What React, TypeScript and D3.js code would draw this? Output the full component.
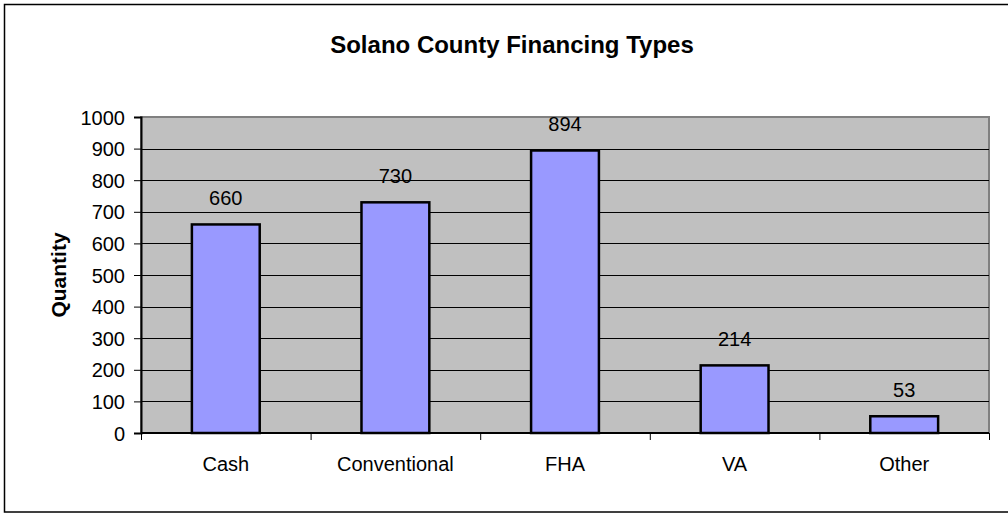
import { useEffect, useRef } from 'react'
import * as d3 from 'd3'

const categories = ['Cash', 'Conventional', 'FHA', 'VA', 'Other']
const quantities = [660, 730, 894, 214, 53]
const yTicks = [0, 100, 200, 300, 400, 500, 600, 700, 800, 900, 1000]

const title = 'Solano County Financing Types'
const yTitle = 'Quantity'

export default function App() {
  const ref = useRef<SVGSVGElement | null>(null)

  useEffect(() => {
    const width = 1008
    const height = 514
    const svg = d3.select(ref.current)
    svg.selectAll('*').remove()
    svg.attr('width', width).attr('height', height).style('display', 'block')
      .style('position', 'absolute').style('left', 0).style('top', 0)
      .style('font-family', '"Liberation Sans", Arial, sans-serif')

    // outer chart frame (clipped on the right in the original)
    svg.append('rect')
      .attr('x', 4.5).attr('y', 4.5)
      .attr('width', 1012).attr('height', 507.5)
      .attr('fill', '#fff')
      .attr('stroke', '#000').attr('stroke-width', 1.5)

    const plot = { left: 141, right: 989, top: 117, bottom: 433 }

    const x = d3.scaleBand().domain(categories).range([plot.left, plot.right]).paddingInner(0).paddingOuter(0)
    const y = d3.scaleLinear().domain([0, 1000]).range([plot.bottom, plot.top])

    // plot area
    svg.append('rect')
      .attr('x', plot.left).attr('y', plot.top)
      .attr('width', plot.right - plot.left).attr('height', plot.bottom - plot.top)
      .attr('fill', '#c0c0c0')
      .attr('stroke', '#808080').attr('stroke-width', 2)

    // gridlines
    svg.append('g')
      .selectAll('line')
      .data(yTicks.filter((t) => t > 0 && t < 1000))
      .enter()
      .append('line')
      .attr('x1', plot.left).attr('x2', plot.right)
      .attr('y1', (d) => Math.round(y(d)) + 0.5).attr('y2', (d) => Math.round(y(d)) + 0.5)
      .attr('stroke', '#000').attr('stroke-width', 1)

    // bars
    const barW = x.bandwidth() * 0.4
    svg.append('g')
      .selectAll('rect')
      .data(quantities)
      .enter()
      .append('rect')
      .attr('x', (_d, i) => (x(categories[i]) as number) + (x.bandwidth() - barW) / 2)
      .attr('y', (d) => y(d))
      .attr('width', barW)
      .attr('height', (d) => y(0) - y(d))
      .attr('fill', '#9999ff')
      .attr('stroke', '#000').attr('stroke-width', 2.5)

    // value labels
    svg.append('g')
      .selectAll('text')
      .data(quantities)
      .enter()
      .append('text')
      .attr('x', (_d, i) => (x(categories[i]) as number) + x.bandwidth() / 2)
      .attr('y', (d) => y(d) - 19)
      .attr('text-anchor', 'middle')
      .attr('font-size', 20)
      .attr('fill', '#000')
      .text((d) => d)

    // y axis
    const yAxis = d3.axisLeft(y).tickValues(yTicks).tickSize(7).tickPadding(9).tickFormat(d3.format('d') as any)
    const ga = svg.append('g').attr('transform', `translate(${plot.left},0)`).call(yAxis as any)
    ga.selectAll('.domain').attr('stroke', '#000').attr('stroke-width', 2)
    ga.selectAll('.tick line').attr('stroke', '#000').attr('stroke-width', 1)
    ga.selectAll('.tick text')
      .attr('font-size', 20).attr('font-family', '"Liberation Sans", Arial, sans-serif')
      .attr('fill', '#000').attr('dy', '0.35em')

    // x axis
    const boundaries = categories.map((c) => x(c) as number).concat([plot.right])
    const gx = svg.append('g')
    gx.append('line')
      .attr('x1', plot.left).attr('x2', plot.right)
      .attr('y1', plot.bottom).attr('y2', plot.bottom)
      .attr('stroke', '#000').attr('stroke-width', 2)
    gx.selectAll('line.tk')
      .data(boundaries)
      .enter()
      .append('line')
      .attr('class', 'tk')
      .attr('x1', (d) => d + 0.5).attr('x2', (d) => d + 0.5)
      .attr('y1', plot.bottom).attr('y2', plot.bottom + 7)
      .attr('stroke', '#000').attr('stroke-width', 1)
    gx.selectAll('text')
      .data(categories)
      .enter()
      .append('text')
      .attr('x', (d) => (x(d) as number) + x.bandwidth() / 2)
      .attr('y', 471)
      .attr('text-anchor', 'middle')
      .attr('font-size', 20)
      .attr('fill', '#000')
      .text((d) => d)

    // titles
    svg.append('text')
      .attr('x', 512).attr('y', 53)
      .attr('text-anchor', 'middle')
      .attr('font-size', 24).attr('font-weight', 'bold')
      .attr('fill', '#000')
      .text(title)

    svg.append('text')
      .attr('transform', `translate(66,${(plot.top + plot.bottom) / 2}) rotate(-90)`)
      .attr('text-anchor', 'middle')
      .attr('font-size', 21).attr('font-weight', 'bold')
      .attr('fill', '#000')
      .text(yTitle)
  }, [])

  return <svg ref={ref} />
}
